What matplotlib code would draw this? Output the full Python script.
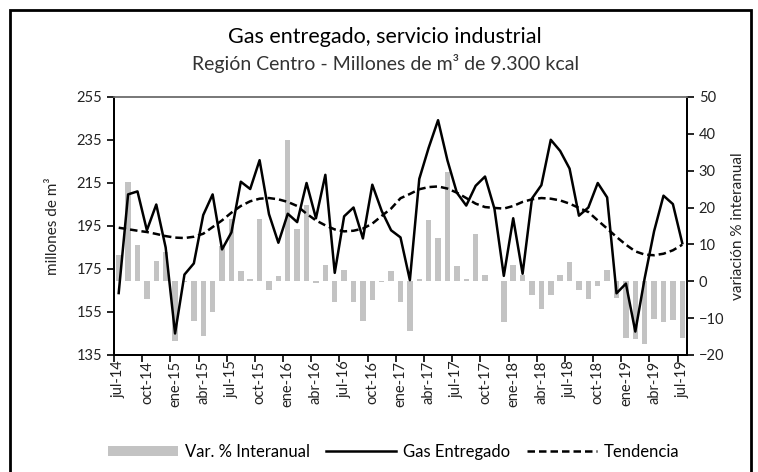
import numpy as np
import pandas as pd
import matplotlib
matplotlib.use("Agg")
import matplotlib.pyplot as plt
from matplotlib.patches import Rectangle, Patch
from matplotlib.lines import Line2D

plt.rcParams['font.family'] = ['Lato', 'DejaVu Sans']

# monthly series, jul-14 .. jul-19
meses = pd.date_range('2014-07-01', '2019-07-01', freq='MS')
nombres = ['ene', 'feb', 'mar', 'abr', 'may', 'jun', 'jul', 'ago', 'sep', 'oct', 'nov', 'dic']
etiquetas = [f"{nombres[d.month - 1]}-{d.strftime('%y')}" for d in meses]

gas_entregado = [
    163.8, 209.7, 211.1, 193.0, 205.0, 185.0, 145.0, 172.4, 177.6, 200.1,
    209.7, 184.1, 192.0, 215.6, 212.2, 225.6, 200.5, 187.2, 200.7, 196.8,
    215.0, 198.6, 218.8, 173.2, 199.5, 203.6, 189.2, 214.2, 202.0, 193.0,
    189.7, 169.8, 216.9, 231.4, 244.2, 225.5, 210.5, 204.5, 213.7, 218.0,
    203.1, 171.8, 198.6, 172.8, 207.8, 214.0, 235.1, 229.9, 221.7, 199.8,
    203.6, 215.0, 208.3, 163.7, 168.2, 145.9, 170.8, 192.6, 209.1, 205.2,
    187.0,
]

tendencia = [
    194.2, 193.5, 192.8, 192.2, 191.3, 190.3, 189.6, 189.4, 190.0, 191.4,
    194.5, 197.6, 201.2, 204.3, 206.5, 207.7, 208.0, 207.4, 206.2, 204.3,
    200.7, 197.6, 195.3, 193.4, 192.5, 192.8, 193.8, 196.1, 199.7, 203.1,
    207.9, 209.9, 212.1, 213.1, 213.4, 212.4, 210.5, 208.0, 205.4, 203.8,
    203.4, 203.1, 204.3, 206.2, 207.4, 208.0, 207.7, 206.9, 205.4, 203.4,
    201.5, 197.6, 193.8, 189.9, 186.3, 183.2, 181.7, 181.4, 182.1, 183.7,
    186.3,
]

var_interanual = [
    7.2, 26.9, 9.9, -4.9, 5.4, 8.0, -16.3, -0.3, -10.8, -14.8,
    -8.3, 9.6, 17.0, 2.7, 0.5, 17.0, -2.4, 1.4, 38.4, 14.3,
    20.6, -0.6, 4.5, -5.6, 3.0, -5.6, -10.9, -5.2, -0.3, 2.7,
    -5.6, -13.6, 0.5, 16.5, 11.8, 29.7, 4.2, 0.5, 12.7, 1.6,
    0.2, -11.0, 4.5, 1.8, -3.8, -7.6, -3.8, 1.8, 5.2, -2.4,
    -4.9, -1.4, 3.0, -4.5, -15.3, -15.6, -16.9, -10.1, -11.0, -10.6,
    -15.3,
]

x = np.arange(len(meses))

fig = plt.figure(figsize=(7.58, 4.72), dpi=100)
ax = fig.add_axes([0.1504, 0.2479, 0.7559, 0.5466])
ax2 = ax.twinx()

# bars behind the lines
ax2.bar(x, var_interanual, width=0.58, color='#c3c3c3', zorder=1)
ax.set_zorder(ax2.get_zorder() + 1)
ax.patch.set_visible(False)

ax.plot(x, gas_entregado, color='black', lw=1.8, zorder=3)
ax.plot(x, tendencia, color='black', lw=1.8, ls=(0, (3, 1.6)), zorder=3)

ax.set_xlim(-0.5, len(x) - 0.5)
ax.set_ylim(135, 255)
ax.set_yticks(np.arange(135, 256, 20))
ax2.set_ylim(-20, 50)
ax2.set_yticks(np.arange(-20, 51, 10))

ax.set_xticks(x[::3])
ax.set_xticklabels(etiquetas[::3], rotation=90, fontsize=10.5, color='#222222')
ax.set_xticks(np.arange(-0.5, len(x), 3), minor=True)
ax.tick_params(axis='x', which='major', length=0, pad=4)
ax.tick_params(axis='x', which='minor', length=5, width=1.2, direction='out')
ax.tick_params(axis='y', length=5, width=1.2, labelsize=10.5, labelcolor='#222222')
ax2.tick_params(axis='y', length=5, width=1.2, labelsize=10.5, labelcolor='#222222')

for a in (ax, ax2):
    a.spines['top'].set_color('#777777')
    a.spines['top'].set_linewidth(1.2)
    for s in ('left', 'right', 'bottom'):
        a.spines[s].set_linewidth(1.4)

ax.set_ylabel('millones de m³', fontsize=11, color='#222222', labelpad=12)
ax2.set_ylabel('variación % interanual', fontsize=11, color='#222222', labelpad=5)

fig.text(0.508, 0.922, 'Gas entregado, servicio industrial', ha='center', va='center',
         fontsize=15.5, color='black')
fig.text(0.508, 0.866, 'Región Centro - Millones de m³ de 9.300 kcal', ha='center',
         va='center', fontsize=14, color='#333333')

handles = [Patch(facecolor='#c3c3c3', edgecolor='none'),
           Line2D([], [], color='black', lw=1.8),
           Line2D([], [], color='black', lw=1.8, ls=(0, (3, 1.6)))]
fig.legend(handles, ['Var. % Interanual', 'Gas Entregado', 'Tendencia'],
           loc='center', bbox_to_anchor=(0.519, 0.043), ncol=3, frameon=False,
           fontsize=12, handlelength=4.2, handleheight=0.6, columnspacing=1.0,
           handletextpad=0.4)

# outer frame
fig.patches.append(Rectangle((10 / 758, -0.05), 741 / 758, 1 - 10 / 472 + 0.05,
                             transform=fig.transFigure, fill=False,
                             edgecolor='black', lw=2))

fig.savefig('out.png', dpi=100)
